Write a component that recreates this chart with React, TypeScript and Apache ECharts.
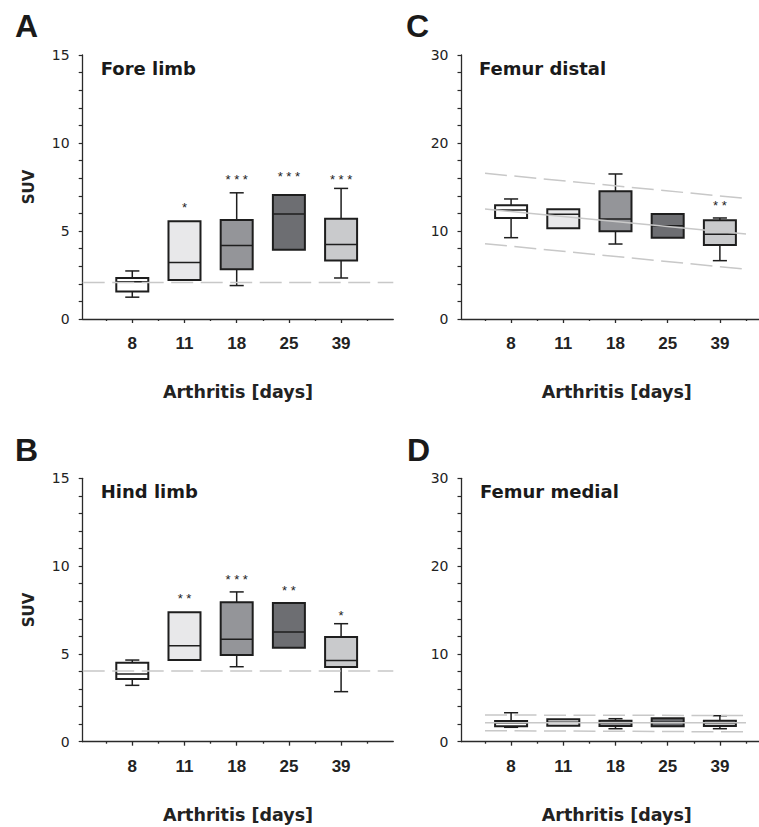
import React, { useEffect, useRef } from 'react';
import * as echarts from 'echarts';

// ---------- data ----------
const dayLabels = ['8', '11', '18', '25', '39'];
const boxColors = ['#ffffff', '#e8e8ea', '#949599', '#6d6e72', '#c9cacc'];

// each box: [min, Q1, median, Q3, max]
const foreLimb = [
  [1.24, 1.56, 2.12, 2.33, 2.73],
  [2.22, 2.22, 3.21, 5.56, 5.56],
  [1.9, 2.83, 4.17, 5.63, 7.17],
  [3.93, 3.93, 5.96, 7.04, 7.04],
  [2.33, 3.32, 4.23, 5.69, 7.42],
];
const hindLimb = [
  [3.21, 3.57, 3.86, 4.5, 4.65],
  [4.65, 4.65, 5.47, 7.37, 7.37],
  [4.27, 4.94, 5.83, 7.94, 8.53],
  [5.35, 5.35, 6.25, 7.9, 7.9],
  [2.85, 4.25, 4.63, 5.96, 6.72],
];
const femurDistal = [
  [9.24, 11.48, 12.39, 12.92, 13.64],
  [10.3, 10.3, 11.89, 12.46, 12.46],
  [8.52, 9.96, 11.36, 14.51, 16.48],
  [9.24, 9.24, 10.61, 11.93, 11.93],
  [6.63, 8.41, 9.62, 11.21, 11.48],
];
const femurMedial = [
  [1.64, 1.75, 2.13, 2.36, 3.3],
  [1.82, 1.82, 2.21, 2.55, 2.55],
  [1.48, 1.79, 2.13, 2.39, 2.62],
  [1.75, 1.75, 2.21, 2.66, 2.66],
  [1.48, 1.79, 2.13, 2.39, 2.96],
];

// significance marks and their heights
const starsA = ['', '*', '***', '***', '***'];
const starYA = [0, 6.34, 7.95, 8.09, 7.93];
const starsB = ['', '**', '***', '**', '*'];
const starYB = [0, 8.13, 9.21, 8.62, 7.2];
const starsC = ['', '', '', '', '**'];
const starYC = [0, 0, 0, 0, 12.88];
const starsD = ['', '', '', '', ''];
const starYD = [0, 0, 0, 0, 0];

// reference lines: [[x1, y1], [x2, y2]]
const baselineA = [[0.05, 2.07], [6, 2.07]];
const baselineB = [[0.05, 4.03], [6, 4.03]];
const trendC = [[0.5, 12.5], [5.5, 9.66]];
const upperC = [[0.5, 16.56], [5.5, 13.7]];
const lowerC = [[0.5, 8.56], [5.5, 5.65]];
const trendD = [[0.5, 2.16], [5.5, 2.16]];
const upperD = [[0.5, 3.04], [5.5, 2.98]];
const lowerD = [[0.5, 1.25], [5.5, 1.12]];

const panelNames = ['Fore limb', 'Femur distal', 'Hind limb', 'Femur medial'];
const panelLetters = ['A', 'C', 'B', 'D'];

// ---------- style / layout ----------
const AX = '#2a2a2a';
const TXT = '#222222';
const REF = '#c8c8c8';
const BOX_W = 0.613;
const CAP_W = 0.27;
const X_MIN = 0.05;
const X_MAX = 6;
const UNIT = 52.2;

const grids = [
  { left: 82.7, top: 55, height: 264 },
  { left: 461.5, top: 55, height: 264 },
  { left: 82.7, top: 478.3, height: 263.4 },
  { left: 461.5, top: 478.3, height: 263.4 },
];

function boxRender(params: any, api: any) {
  const x = api.value(0);
  const pMin = api.coord([x, api.value(1)]);
  const pQ1 = api.coord([x, api.value(2)]);
  const pMed = api.coord([x, api.value(3)]);
  const pQ3 = api.coord([x, api.value(4)]);
  const pMax = api.coord([x, api.value(5)]);
  const bw = api.size([BOX_W, 0])[0];
  const cw = api.size([CAP_W, 0])[0];
  const cx = pMed[0];
  const stroke = '#1e1e1e';
  const wl = { stroke, lineWidth: 1.5 };
  const children: any[] = [];
  if (pMax[1] < pQ3[1] - 0.5) {
    children.push({ type: 'line', shape: { x1: cx, y1: pQ3[1], x2: cx, y2: pMax[1] }, style: wl });
    children.push({ type: 'line', shape: { x1: cx - cw / 2, y1: pMax[1], x2: cx + cw / 2, y2: pMax[1] }, style: wl });
  }
  if (pMin[1] > pQ1[1] + 0.5) {
    children.push({ type: 'line', shape: { x1: cx, y1: pQ1[1], x2: cx, y2: pMin[1] }, style: wl });
    children.push({ type: 'line', shape: { x1: cx - cw / 2, y1: pMin[1], x2: cx + cw / 2, y2: pMin[1] }, style: wl });
  }
  children.push({
    type: 'rect',
    shape: { x: cx - bw / 2, y: pQ3[1], width: bw, height: pQ1[1] - pQ3[1] },
    style: { fill: boxColors[params.dataIndex], stroke, lineWidth: 2 },
  });
  children.push({
    type: 'line',
    shape: { x1: cx - bw / 2, y1: pMed[1], x2: cx + bw / 2, y2: pMed[1] },
    style: { stroke, lineWidth: 1.5 },
  });
  return { type: 'group', children };
}

function buildPanel(i: number, boxes: number[][], stars: string[], starY: number[], lines: { d: number[][]; dashed: boolean }[], yMax: number, yInt: number, showName: boolean) {
  const xAxes = [
    {
      type: 'value', gridIndex: i, min: X_MIN, max: X_MAX, position: 'bottom',
      axisLine: { show: true, onZero: false, lineStyle: { color: AX, width: 1.3 } },
      axisTick: { show: true, customValues: [1, 2, 3, 4, 5], length: 4, lineStyle: { color: AX, width: 1.3 } },
      axisLabel: {
        show: true, customValues: [1, 2, 3, 4, 5],
        formatter: (v: number) => dayLabels[Math.round(v) - 1] ?? '',
        fontFamily: 'Liberation Sans', fontWeight: 'bold', fontSize: 17, color: TXT, margin: 16,
      },
      splitLine: { show: false },
      name: 'Arthritis [days]', nameLocation: 'middle', nameGap: 64,
      nameTextStyle: { fontFamily: 'DejaVu Sans', fontWeight: 'bold', fontSize: 17.5, color: TXT },
    },
    {
      type: 'value', gridIndex: i, min: X_MIN, max: X_MAX, position: 'bottom',
      axisLine: { show: false },
      axisTick: { show: true, customValues: [0.5, 1.5, 2.5, 3.5, 4.5, 5.5], length: 2, lineStyle: { color: AX, width: 1.3 } },
      axisLabel: { show: false },
      splitLine: { show: false },
    },
  ];
  const yAxis = {
    type: 'value', gridIndex: i, min: 0, max: yMax, interval: yInt,
    axisLine: { show: true, onZero: false, lineStyle: { color: AX, width: 1.3 } },
    axisTick: { show: true, length: 4, lineStyle: { color: AX, width: 1.2 } },
    minorTick: { show: true, splitNumber: 5, length: 4, lineStyle: { color: AX, width: 1.2 } },
    axisLabel: { fontFamily: 'DejaVu Sans', fontSize: 14, color: TXT, margin: 13 },
    splitLine: { show: false },
    minorSplitLine: { show: false },
    name: showName ? 'SUV' : '', nameLocation: 'middle', nameGap: 46, nameRotate: 90,
    nameTextStyle: { fontFamily: 'DejaVu Sans', fontWeight: 'bold', fontSize: 15, color: TXT },
  };
  const series: any[] = [];
  lines.forEach((l) => {
    series.push({
      type: 'line', xAxisIndex: 2 * i, yAxisIndex: i, data: l.d, symbol: 'none', silent: true,
      lineStyle: { color: REF, width: 1.5, type: l.dashed ? [22, 7.5] : 'solid' },
    });
  });
  series.push({
    type: 'custom', xAxisIndex: 2 * i, yAxisIndex: i, clip: false,
    renderItem: boxRender,
    encode: { x: 0, y: [1, 2, 3, 4, 5] },
    data: boxes.map((b, k) => [k + 1, ...b]),
  });
  const starTexts: string[] = [];
  const starData: number[][] = [];
  stars.forEach((s, k) => {
    if (s) {
      starTexts.push(s.split('').join(' '));
      starData.push([k + 1, starY[k]]);
    }
  });
  if (starData.length) {
    series.push({
      type: 'custom', xAxisIndex: 2 * i, yAxisIndex: i, clip: false,
      renderItem: (params: any, api: any) => {
        const p = api.coord([api.value(0), api.value(1)]);
        return {
          type: 'text', x: p[0], y: p[1],
          style: {
            text: starTexts[params.dataIndex], fill: '#222', fontSize: 13,
            fontFamily: 'Liberation Sans', align: 'center', verticalAlign: 'middle',
          },
        };
      },
      encode: { x: 0, y: 1 },
      data: starData,
    });
  }
  return { xAxes, yAxis, series };
}

export default function App() {
  const ref = useRef<HTMLDivElement>(null);
  useEffect(() => {
    if (!ref.current) return;
    const chart = echarts.init(ref.current, undefined, { renderer: 'svg' });
    const panels = [
      buildPanel(0, foreLimb, starsA, starYA, [{ d: baselineA, dashed: true }], 15, 5, true),
      buildPanel(1, femurDistal, starsC, starYC, [
        { d: trendC, dashed: false }, { d: upperC, dashed: true }, { d: lowerC, dashed: true },
      ], 30, 10, false),
      buildPanel(2, hindLimb, starsB, starYB, [{ d: baselineB, dashed: true }], 15, 5, true),
      buildPanel(3, femurMedial, starsD, starYD, [
        { d: trendD, dashed: false }, { d: upperD, dashed: true }, { d: lowerD, dashed: true },
      ], 30, 10, false),
    ];
    const letterPos = [[15, 26], [406, 26], [15, 450], [407, 450]];
    const namePos = [[100.7, 68], [479, 68], [100.7, 491.7], [480, 491.7]];
    const graphic: any[] = [];
    panelLetters.forEach((t, k) => {
      graphic.push({
        type: 'text', x: letterPos[k][0], y: letterPos[k][1],
        style: { text: t, fontFamily: 'Liberation Sans', fontWeight: 'bold', fontSize: 32, fill: '#1a1a1a', verticalAlign: 'middle', align: 'left' },
      });
    });
    panelNames.forEach((t, k) => {
      graphic.push({
        type: 'text', x: namePos[k][0], y: namePos[k][1],
        style: { text: t, fontFamily: 'DejaVu Sans', fontWeight: 'bold', fontSize: 18, fill: '#1a1a1a', verticalAlign: 'middle', align: 'left' },
      });
    });
    chart.setOption({
      animation: false,
      backgroundColor: '#ffffff',
      grid: grids.map((g) => ({
        left: g.left, top: g.top, height: g.height, width: (X_MAX - X_MIN) * UNIT,
        containLabel: false, outerBoundsMode: 'none',
      })),
      xAxis: panels.flatMap((p) => p.xAxes),
      yAxis: panels.map((p) => p.yAxis),
      series: panels.flatMap((p) => p.series),
      graphic,
    });
    return () => chart.dispose();
  }, []);
  return <div ref={ref} style={{ position: 'absolute', left: 0, top: 0, width: 759, height: 827, background: '#fff' }} />;
}
